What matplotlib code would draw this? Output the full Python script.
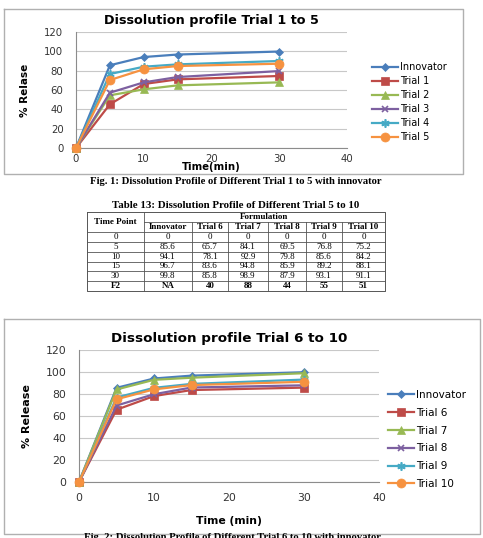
import numpy as np
import matplotlib.pyplot as plt

# data
time = [0, 5, 10, 15, 30]
innovator = [0, 85.6, 94.1, 96.7, 99.8]

trials_1_5 = {
    "Trial 1": [0, 45.2, 66.2, 71.0, 74.5],
    "Trial 2": [0, 54.5, 60.7, 64.8, 67.9],
    "Trial 3": [0, 57.2, 67.9, 73.4, 79.6],
    "Trial 4": [0, 76.5, 84.1, 86.5, 90.0],
    "Trial 5": [0, 70.3, 81.4, 84.8, 87.2],
}

trial6 = [0, 65.7, 78.1, 83.6, 85.8]
trial7 = [0, 84.1, 92.9, 94.8, 98.9]
trial8 = [0, 69.5, 79.8, 85.9, 87.9]
trial9 = [0, 76.8, 85.6, 89.2, 93.1]
trial10 = [0, 75.2, 84.2, 88.1, 91.1]
trials_6_10 = {"Trial 6": trial6, "Trial 7": trial7, "Trial 8": trial8,
               "Trial 9": trial9, "Trial 10": trial10}

table_cols = ["Innovator", "Trial 6", "Trial 7", "Trial 8", "Trial 9", "Trial 10"]
f2_values = ["NA", "40", "88", "44", "55", "51"]

# excel 2007 style
colors = ["#4A7EBB", "#BE4B48", "#98B954", "#7D60A0", "#46AAC5", "#F69240"]
markers = ["D", "s", "^", "x", (6, 2, 0), "o"]
msizes = [4, 5.5, 5.5, 5, 6, 6.5]

W, H = 483, 538
fig = plt.figure(figsize=(W / 100, H / 100), dpi=100)

# background layer in pixel coords
bg = fig.add_axes([0, 0, 1, 1])
bg.set_xlim(0, W)
bg.set_ylim(H, 0)
bg.axis("off")


def box(x0, y0, x1, y1):
    bg.plot([x0, x1, x1, x0, x0], [y0, y0, y1, y1, y0], color="#b0b0b0", lw=1.0)


def px_axes(x0, y0, x1, y1):
    return fig.add_axes([x0 / W, 1 - y1 / H, (x1 - x0) / W, (y1 - y0) / H])


def draw_chart(ax, series, title, tsize, xpad):
    names = ["Innovator"] + list(series.keys())
    vals = [innovator] + list(series.values())
    for i, (n, v) in enumerate(zip(names, vals)):
        ax.plot(time, v, color=colors[i], lw=1.6, marker=markers[i],
                markersize=msizes[i], markeredgewidth=1.2 if i in (3, 4) else 0.5,
                markeredgecolor=colors[i], label=n, clip_on=False, zorder=3 + i)
    ax.set_xlim(0, 40)
    ax.set_ylim(0, 120)
    ax.set_xticks(range(0, 41, 10))
    ax.set_yticks(range(0, 121, 20))
    ax.grid(axis="y", color="#c8c8c8", lw=0.8)
    ax.set_axisbelow(True)
    for s in ["top", "right"]:
        ax.spines[s].set_visible(False)
    for s in ["left", "bottom"]:
        ax.spines[s].set_color("#8c8c8c")
    ax.tick_params(length=0, labelsize=tsize, colors="#333333")
    ax.tick_params(axis="y", pad=9)
    ax.tick_params(axis="x", pad=xpad)
    ax.set_title(title, fontsize=tsize + 1.9, fontweight="bold", pad=6)
    return ax


# chart 1
box(4, 9, 463, 174)
ax1 = px_axes(76, 32, 347, 148)
draw_chart(ax1, trials_1_5, "Dissolution profile Trial 1 to 5", 7.3, 4)
ax1.set_ylabel("% Relase", fontsize=7.5, fontweight="bold",
               family=["Liberation Sans Narrow", "DejaVu Sans"], labelpad=10)
ax1.set_xlabel("Time(min)", fontsize=7.3, fontweight="bold", labelpad=-1)
ax1.legend(loc="upper left", bbox_to_anchor=(372 / W, 1 - 62 / H),
           bbox_transform=fig.transFigure, frameon=False, fontsize=7,
           handlelength=2.7, handletextpad=0.2, labelspacing=0.42,
           borderpad=0, borderaxespad=0)

# captions / table
serif = ["Liberation Serif", "DejaVu Serif"]
bg.text(236, 181, "Fig. 1: Dissolution Profile of Different Trial 1 to 5 with innovator",
        ha="center", va="center", fontsize=7.7, fontweight="bold", family=serif)
bg.text(236, 205, "Table 13: Dissolution Profile of Different Trial 5 to 10",
        ha="center", va="center", fontsize=7.8, fontweight="bold", family=serif)

col_x = [87, 144, 192, 228, 268, 306, 342, 385]
row_y = [212, 222, 232, 242, 252, 261.5, 271, 281, 291]
tc = "#555555"
bg.plot([col_x[0], col_x[-1], col_x[-1], col_x[0], col_x[0]],
        [row_y[0], row_y[0], row_y[-1], row_y[-1], row_y[0]], color=tc, lw=0.7)
bg.plot([col_x[1], col_x[-1]], [row_y[1], row_y[1]], color=tc, lw=0.6)
for y in row_y[2:-1]:
    bg.plot([col_x[0], col_x[-1]], [y, y], color=tc, lw=0.6)
bg.plot([col_x[1], col_x[1]], [row_y[0], row_y[-1]], color=tc, lw=0.6)
for x in col_x[2:-1]:
    bg.plot([x, x], [row_y[1], row_y[-1]], color=tc, lw=0.6)

fs = 6.5
bg.text((col_x[0] + col_x[1]) / 2, (row_y[0] + row_y[2]) / 2, "Time Point",
        ha="center", va="center", fontsize=fs, fontweight="bold", family=serif)
bg.text((col_x[1] + col_x[-1]) / 2, (row_y[0] + row_y[1]) / 2, "Formulation",
        ha="center", va="center", fontsize=fs, fontweight="bold", family=serif)
for j, c in enumerate(table_cols):
    bg.text((col_x[j + 1] + col_x[j + 2]) / 2, (row_y[1] + row_y[2]) / 2, c,
            ha="center", va="center", fontsize=fs, fontweight="bold", family=serif)
table_series = [innovator, trial6, trial7, trial8, trial9, trial10]
for r, t in enumerate(time):
    yc = (row_y[r + 2] + row_y[r + 3]) / 2
    bg.text((col_x[0] + col_x[1]) / 2, yc, str(t), ha="center", va="center",
            fontsize=fs, family=serif)
    for j, s in enumerate(table_series):
        v = s[r]
        txt = "0" if v == 0 else "%.1f" % v
        bg.text((col_x[j + 1] + col_x[j + 2]) / 2, yc, txt, ha="center", va="center",
                fontsize=fs, family=serif)
yc = (row_y[7] + row_y[8]) / 2
bg.text((col_x[0] + col_x[1]) / 2, yc, "F2", ha="center", va="center",
        fontsize=fs, fontweight="bold", family=serif)
for j, f in enumerate(f2_values):
    bg.text((col_x[j + 1] + col_x[j + 2]) / 2, yc, f, ha="center", va="center",
            fontsize=fs, fontweight="bold", family=serif)

# chart 2
box(4, 319, 480, 534)
ax2 = px_axes(79, 350, 379, 482)
draw_chart(ax2, trials_6_10, "Dissolution profile Trial 6 to 10", 7.8, 8)
ax2.set_ylabel("% Release", fontsize=8, fontweight="bold",
               family=["Liberation Sans Narrow", "DejaVu Sans"], labelpad=10)
ax2.set_xlabel("Time (min)", fontsize=7.8, fontweight="bold", labelpad=9)
ax2.legend(loc="upper left", bbox_to_anchor=(388 / W, 1 - 390 / H),
           bbox_transform=fig.transFigure, frameon=False, fontsize=7.5,
           handlelength=2.5, handletextpad=0.15, labelspacing=0.75,
           borderpad=0, borderaxespad=0)

bg.text(232, 533, "Fig. 2: Dissolution Profile of Different Trial 6 to 10 with innovator",
        ha="center", va="top", fontsize=7.7, fontweight="bold", family=serif)

fig.savefig("out.png", dpi=100)
